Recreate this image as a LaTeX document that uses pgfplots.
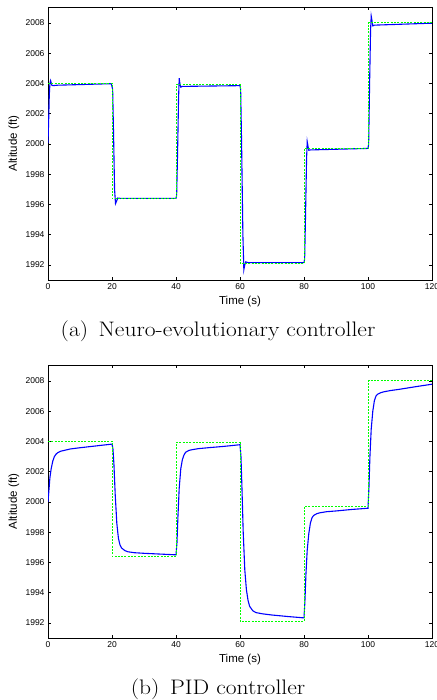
\documentclass[border=0pt]{standalone}
\usepackage{pgfplots}
\pgfplotsset{compat=1.18}
\usepackage{fontspec}
\newfontfamily\helv{Liberation Sans}
\definecolor{refgreen}{RGB}{0,255,0}
\definecolor{outblue}{RGB}{0,0,255}
\pgfplotsset{
  myaxis/.style={
    scale only axis, width=384pt, height=273pt,
    xmin=0, xmax=120, ymin=1991, ymax=2009.05,
    xtick={0,20,...,120}, ytick={1992,1994,...,2008},
    /pgf/number format/1000 sep={},
    /pgf/number format/assume math mode=true,
    tick label style={font=\helv\fontsize{8.5}{9}\selectfont},
    major tick length=3pt,
    tick align=inside,
    every tick/.style={black, line width=0.6pt},
    axis line style={line width=0.9pt},
    xlabel={Time (s)}, ylabel={Altitude (ft)},
    xlabel style={at={(axis description cs:0.5,-0.0806)}, anchor=center, font=\helv\fontsize{11.5}{12}\selectfont},
    ylabel style={at={(axis description cs:-0.0885,0.5)}, anchor=center, font=\helv\fontsize{11.5}{12}\selectfont},
    clip=true,
  },
  blueline/.style={color=outblue, line width=1.1pt, no markers},
  greenline/.style={color=refgreen, line width=0.9pt, dash pattern=on 2pt off 1.3pt, no markers},
}
\begin{document}
\begin{tikzpicture}
\path[use as bounding box] (0pt,0pt) rectangle (436pt,-700pt);
% (a) Neuro-evolutionary controller
\begin{axis}[myaxis, at={(48pt,-7pt)}, anchor=north west]
\addplot[blueline] coordinates {
(0,2000.05) (0.2,2001.5) (0.4,2003.2) (0.6,2004.0) (0.8,2004.18) (1.0,2004.05) (1.2,2003.88) (1.5,2003.85) (3,2003.88) (10,2003.92) (19.8,2003.98)
(20.2,2003.6) (20.5,2000.5) (20.8,1997.0) (21.1,1996.05) (21.4,1996.2) (21.8,1996.42) (22.5,1996.4) (40,1996.4)
(40.2,1996.6) (40.5,1999.5) (40.8,2003.0) (41.0,2004.35) (41.2,2004.0) (41.5,2003.75) (42,2003.8) (60,2003.85)
(60.2,2003.6) (60.5,2000) (60.9,1994) (61.2,1991.68) (61.5,1992.0) (61.8,1992.2) (62.5,1992.15) (80,1992.15)
(80.2,1992.4) (80.5,1995.5) (80.8,1999.0) (81.0,2000.15) (81.2,1999.9) (81.5,1999.58) (82,1999.6) (100,1999.7)
(100.2,2000.0) (100.5,2004) (100.8,2007.5) (101.0,2008.45) (101.2,2008.2) (101.5,2007.8) (102,2007.85) (120,2007.98)
};
\addplot[greenline] coordinates {
(0,2004) (20,2004) (20,1996.4) (40,1996.4) (40,2003.9) (60,2003.9) (60,1992.1) (80,1992.1) (80,1999.7) (100,1999.7) (100,2008) (120,2008)
};
\end{axis}
\node[font=\fontsize{21}{23}\selectfont] at (218pt,-331pt) {\scalebox{1.12}[1]{(a)\hspace{0.45em}Neuro-evolutionary controller}};
% (b) PID controller
\begin{axis}[myaxis, at={(48pt,-365pt)}, anchor=north west]
\addplot[blueline] coordinates {
(0,2000) (0.3,2000.8) (0.6,2001.6) (1,2002.2) (1.5,2002.7) (2,2003.0) (2.5,2003.15) (3,2003.25) (4,2003.35) (5,2003.4) (7,2003.5) (10,2003.58) (15,2003.7) (20,2003.82)
(20.3,2003.5) (20.6,2002.5) (21,2000.5) (21.5,1998.6) (22,1997.6) (22.5,1997.15) (23,1996.95) (24,1996.78) (25,1996.7) (27,1996.64) (30,1996.6) (35,1996.55) (40,1996.5)
(40.3,1997.3) (40.6,1999) (41,2000.9) (41.5,2002.2) (42,2002.8) (42.5,2003.1) (43,2003.28) (44,2003.4) (45,2003.45) (47,2003.52) (50,2003.58) (55,2003.67) (60,2003.78)
(60.3,2003.0) (60.6,2001.0) (61,1998.0) (61.5,1995.5) (62,1994.2) (62.5,1993.5) (63,1993.1) (64,1992.8) (65,1992.68) (67,1992.6) (70,1992.52) (75,1992.42) (80,1992.33)
(80.3,1993.5) (80.6,1995.2) (81,1996.8) (81.5,1997.9) (82,1998.6) (82.5,1998.95) (83,1999.1) (84,1999.22) (85,1999.28) (87,1999.35) (90,1999.4) (95,1999.5) (100,1999.58)
(100.3,2001) (100.6,2003) (101,2004.8) (101.5,2006.0) (102,2006.7) (102.5,2007.0) (103,2007.12) (104,2007.22) (105,2007.28) (107,2007.36) (110,2007.45) (115,2007.62) (120,2007.78)
};
\addplot[greenline] coordinates {
(0,2004) (20,2004) (20,1996.4) (40,1996.4) (40,2003.9) (60,2003.9) (60,1992.1) (80,1992.1) (80,1999.7) (100,1999.7) (100,2008) (120,2008)
};
\end{axis}
\node[font=\fontsize{21}{23}\selectfont] at (218pt,-689pt) {\scalebox{1.12}[1]{(b)\hspace{0.45em}PID controller}};
\end{tikzpicture}
\end{document}
